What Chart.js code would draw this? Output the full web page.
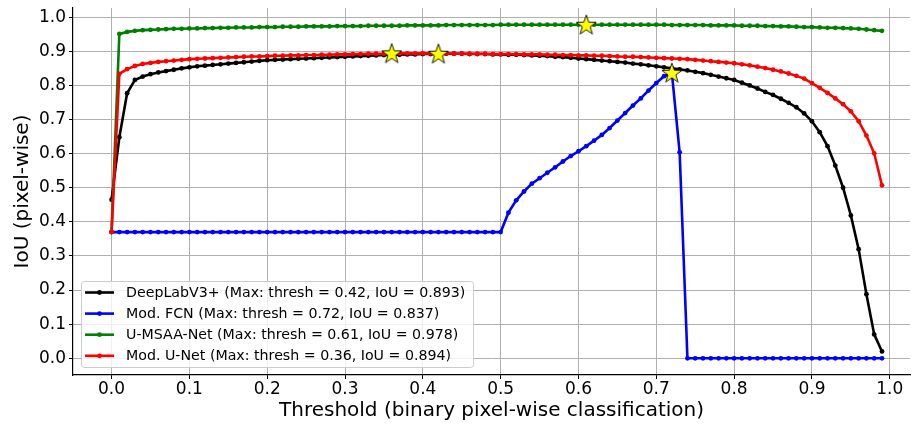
<!DOCTYPE html>
<html>
<head>
<meta charset="utf-8">
<script src="https://cdn.jsdelivr.net/npm/chart.js@4/dist/chart.umd.min.js"></script>
<style>
  html, body { margin: 0; padding: 0; background: #fff; }
  #wrap { width: 912px; height: 425px; }
</style>
</head>
<body>
<div id="wrap"><canvas id="iou_chart"></canvas></div>
<script>
// thresholds on the x axis
var thresholds = [
  0.00, 0.01, 0.02, 0.03, 0.04, 0.05, 0.06, 0.07, 0.08, 0.09,
  0.10, 0.11, 0.12, 0.13, 0.14, 0.15, 0.16, 0.17, 0.18, 0.19,
  0.20, 0.21, 0.22, 0.23, 0.24, 0.25, 0.26, 0.27, 0.28, 0.29,
  0.30, 0.31, 0.32, 0.33, 0.34, 0.35, 0.36, 0.37, 0.38, 0.39,
  0.40, 0.41, 0.42, 0.43, 0.44, 0.45, 0.46, 0.47, 0.48, 0.49,
  0.50, 0.51, 0.52, 0.53, 0.54, 0.55, 0.56, 0.57, 0.58, 0.59,
  0.60, 0.61, 0.62, 0.63, 0.64, 0.65, 0.66, 0.67, 0.68, 0.69,
  0.70, 0.71, 0.72, 0.73, 0.74, 0.75, 0.76, 0.77, 0.78, 0.79,
  0.80, 0.81, 0.82, 0.83, 0.84, 0.85, 0.86, 0.87, 0.88, 0.89,
  0.90, 0.91, 0.92, 0.93, 0.94, 0.95, 0.96, 0.97, 0.98, 0.99
];

var deeplabIoU = [
  0.465, 0.648, 0.777, 0.816, 0.826, 0.833, 0.838, 0.842, 0.846, 0.850,
  0.853, 0.856, 0.858, 0.860, 0.862, 0.864, 0.866, 0.868, 0.870, 0.872,
  0.874, 0.875, 0.876, 0.877, 0.878, 0.879, 0.880, 0.881, 0.882, 0.883,
  0.884, 0.885, 0.886, 0.887, 0.888, 0.889, 0.890, 0.890, 0.891, 0.891,
  0.892, 0.892, 0.893, 0.893, 0.893, 0.893, 0.892, 0.892, 0.892, 0.891,
  0.891, 0.890, 0.890, 0.889, 0.888, 0.887, 0.886, 0.884, 0.883, 0.881,
  0.879, 0.877, 0.875, 0.873, 0.871, 0.869, 0.867, 0.864, 0.862, 0.859,
  0.856, 0.853, 0.850, 0.847, 0.844, 0.840, 0.836, 0.831, 0.826, 0.821,
  0.816, 0.808, 0.800, 0.791, 0.781, 0.772, 0.761, 0.749, 0.736, 0.718,
  0.695, 0.663, 0.622, 0.565, 0.500, 0.419, 0.320, 0.188, 0.070, 0.020
];

var fcnIoU = [
  0.370, 0.370, 0.370, 0.370, 0.370, 0.370, 0.370, 0.370, 0.370, 0.370,
  0.370, 0.370, 0.370, 0.370, 0.370, 0.370, 0.370, 0.370, 0.370, 0.370,
  0.370, 0.370, 0.370, 0.370, 0.370, 0.370, 0.370, 0.370, 0.370, 0.370,
  0.370, 0.370, 0.370, 0.370, 0.370, 0.370, 0.370, 0.370, 0.370, 0.370,
  0.370, 0.370, 0.370, 0.370, 0.370, 0.370, 0.370, 0.370, 0.370, 0.370,
  0.370, 0.427, 0.463, 0.489, 0.512, 0.528, 0.544, 0.560, 0.577, 0.593,
  0.607, 0.622, 0.638, 0.655, 0.675, 0.697, 0.719, 0.741, 0.762, 0.785,
  0.807, 0.827, 0.837, 0.604, 0.000, 0.000, 0.000, 0.000, 0.000, 0.000,
  0.000, 0.000, 0.000, 0.000, 0.000, 0.000, 0.000, 0.000, 0.000, 0.000,
  0.000, 0.000, 0.000, 0.000, 0.000, 0.000, 0.000, 0.000, 0.000, 0.000
];

var msaaIoU = [
  0.370, 0.951, 0.957, 0.960, 0.962, 0.963, 0.964, 0.965, 0.966, 0.966,
  0.967, 0.967, 0.968, 0.968, 0.969, 0.969, 0.970, 0.970, 0.970, 0.971,
  0.971, 0.971, 0.972, 0.972, 0.972, 0.973, 0.973, 0.973, 0.973, 0.974,
  0.974, 0.974, 0.974, 0.975, 0.975, 0.975, 0.975, 0.975, 0.976, 0.976,
  0.976, 0.976, 0.976, 0.977, 0.977, 0.977, 0.977, 0.977, 0.977, 0.977,
  0.978, 0.978, 0.978, 0.978, 0.978, 0.978, 0.978, 0.978, 0.978, 0.978,
  0.978, 0.978, 0.978, 0.978, 0.978, 0.978, 0.978, 0.978, 0.978, 0.978,
  0.978, 0.978, 0.977, 0.977, 0.977, 0.977, 0.977, 0.976, 0.976, 0.976,
  0.976, 0.975, 0.975, 0.975, 0.974, 0.974, 0.973, 0.973, 0.972, 0.971,
  0.971, 0.970, 0.969, 0.969, 0.968, 0.967, 0.966, 0.964, 0.962, 0.960
];

var unetIoU = [
  0.370, 0.834, 0.848, 0.857, 0.863, 0.866, 0.869, 0.871, 0.873, 0.875,
  0.877, 0.878, 0.879, 0.880, 0.881, 0.882, 0.883, 0.884, 0.885, 0.885,
  0.886, 0.887, 0.887, 0.888, 0.888, 0.889, 0.889, 0.890, 0.890, 0.891,
  0.891, 0.892, 0.892, 0.893, 0.893, 0.893, 0.894, 0.894, 0.894, 0.894,
  0.894, 0.894, 0.894, 0.894, 0.893, 0.893, 0.893, 0.893, 0.893, 0.892,
  0.892, 0.892, 0.892, 0.891, 0.891, 0.891, 0.890, 0.890, 0.889, 0.889,
  0.888, 0.888, 0.887, 0.887, 0.886, 0.885, 0.884, 0.884, 0.883, 0.882,
  0.881, 0.880, 0.879, 0.878, 0.877, 0.875, 0.873, 0.871, 0.869, 0.867,
  0.865, 0.862, 0.859, 0.855, 0.851, 0.846, 0.841, 0.835, 0.828, 0.820,
  0.807, 0.793, 0.778, 0.762, 0.745, 0.724, 0.695, 0.653, 0.601, 0.507
];

var modelNames = ["DeepLabV3+", "Mod. FCN", "U-MSAA-Net", "Mod. U-Net"];
var modelColors = ["#000000", "#0000ff", "#008000", "#ff0000"];
var bestThresh = [0.42, 0.72, 0.61, 0.36];
var bestIoU = [0.893, 0.837, 0.978, 0.894];

var xTicks = [0.0, 0.1, 0.2, 0.3, 0.4, 0.5, 0.6, 0.7, 0.8, 0.9, 1.0];
var yTicks = [0.0, 0.1, 0.2, 0.3, 0.4, 0.5, 0.6, 0.7, 0.8, 0.9, 1.0];

Chart.defaults.font.family = "'DejaVu Sans', sans-serif";
Chart.defaults.color = "#000";

function pairs(ys) {
    return thresholds.map(function (t, i) { return { x: t, y: ys[i] }; });
}

// yellow filled star used to mark each maximum
function makeStar(size, outer, inner) {
    var c = document.createElement('canvas');
    c.width = size;
    c.height = size;
    var g = c.getContext('2d');
    g.beginPath();
    for (var i = 0; i < 10; i++) {
        var r = i % 2 ? inner : outer;
        var a = -Math.PI / 2 + i * Math.PI / 5;
        var px = size / 2 + r * Math.cos(a), py = size / 2 + 0.8 + r * Math.sin(a);
        if (i === 0) g.moveTo(px, py); else g.lineTo(px, py);
    }
    g.closePath();
    g.fillStyle = '#ffff00';
    g.fill();
    g.lineWidth = 0.9;
    g.strokeStyle = '#000';
    g.stroke();
    return c;
}
var starImg = makeStar(26, 10.5, 4.2);

var seriesData = [deeplabIoU, fcnIoU, msaaIoU, unetIoU];
var datasets = seriesData.map(function (ys, i) {
    return {
        label: modelNames[i] + ' (Max: thresh = ' + bestThresh[i].toFixed(2) + ', IoU = ' + bestIoU[i].toFixed(3) + ')',
        data: pairs(ys),
        borderColor: modelColors[i],
        backgroundColor: modelColors[i],
        borderWidth: 2.6,
        pointRadius: 2.4,
        pointBorderWidth: 0,
        pointHoverRadius: 2.4,
        tension: 0,
        fill: false,
        order: 4 - i
    };
});
datasets.push({
    label: 'max',
    data: bestThresh.map(function (t, i) { return { x: t, y: bestIoU[i] }; }),
    showLine: false,
    pointStyle: starImg,
    pointRadius: 10,
    order: 0
});

// matplotlib style legend box in the lower left of the plot
var boxLegend = {
    id: 'boxLegend',
    afterDraw: function (chart) {
        var ctx = chart.ctx, area = chart.chartArea;
        var left = area.left + 8, bottom = area.bottom - 8;
        var rowH = 21.1, w = 392, h = 86;
        var top = bottom - h;
        ctx.save();
        ctx.beginPath();
        ctx.roundRect(left + 0.5, top + 0.5, w, h, 3);
        ctx.fillStyle = 'rgba(255,255,255,0.8)';
        ctx.fill();
        ctx.strokeStyle = '#cccccc';
        ctx.lineWidth = 1;
        ctx.stroke();
        ctx.font = "14.2px 'DejaVu Sans'";
        ctx.textBaseline = 'middle';
        for (var i = 0; i < 4; i++) {
            var ds = chart.data.datasets[i];
            var y = top + 11.5 + i * rowH;
            ctx.beginPath();
            ctx.moveTo(left + 4, y);
            ctx.lineTo(left + 33, y);
            ctx.strokeStyle = ds.borderColor;
            ctx.lineWidth = 2.6;
            ctx.stroke();
            ctx.beginPath();
            ctx.arc(left + 18.5, y, 2.4, 0, Math.PI * 2);
            ctx.fillStyle = ds.borderColor;
            ctx.fill();
            ctx.fillStyle = '#000';
            ctx.fillText(ds.label, left + 45, y + 1);
        }
        ctx.restore();
    }
};

// the plot area is set by layout padding only, not by label overhang
function noOverhang(axis) {
    axis.paddingLeft = 0;
    axis.paddingRight = 0;
    axis.paddingTop = 0;
    axis.paddingBottom = 0;
}

var ctx = document.getElementById('iou_chart').getContext('2d');
var iouChart = new Chart(ctx, {
    type: 'line',
    data: { datasets: datasets },
    plugins: [boxLegend],
    options: {
        responsive: true,
        maintainAspectRatio: false,
        animation: false,
        layout: {
            autoPadding: false,
            padding: { top: 8, right: 2, left: 5, bottom: 4 }
        },
        plugins: {
            legend: { display: false },
            tooltip: { enabled: false }
        },
        scales: {
            x: {
                type: 'linear',
                min: -0.0495,
                max: 1.026,
                afterBuildTicks: function (axis) {
                    axis.ticks = xTicks.map(function (v) { return { value: v }; });
                },
                afterFit: noOverhang,
                ticks: {
                    font: { size: 17, lineHeight: 1.0 },
                    padding: 2,
                    maxRotation: 0,
                    autoSkip: false,
                    callback: function (v) { return v.toFixed(1); }
                },
                grid: { color: '#b0b0b0', lineWidth: 1, tickLength: 4, tickColor: '#000' },
                border: { color: '#000', width: 1.2 },
                title: {
                    display: true,
                    text: 'Threshold (binary pixel-wise classification)',
                    font: { size: 20, lineHeight: 1.0 },
                    padding: { top: 1, bottom: 0 }
                }
            },
            y: {
                type: 'linear',
                min: -0.049,
                max: 1.027,
                afterBuildTicks: function (axis) {
                    axis.ticks = yTicks.map(function (v) { return { value: v }; });
                },
                afterFit: noOverhang,
                ticks: {
                    font: { size: 17 },
                    padding: 3,
                    autoSkip: false,
                    callback: function (v) { return v.toFixed(1); }
                },
                grid: { color: '#b0b0b0', lineWidth: 1, tickLength: 4, tickColor: '#000' },
                border: { color: '#000', width: 1.2 },
                title: {
                    display: true,
                    text: 'IoU (pixel-wise)',
                    font: { size: 20 },
                    padding: { top: 6, bottom: 1 }
                }
            }
        }
    }
});
</script>
</body>
</html>
